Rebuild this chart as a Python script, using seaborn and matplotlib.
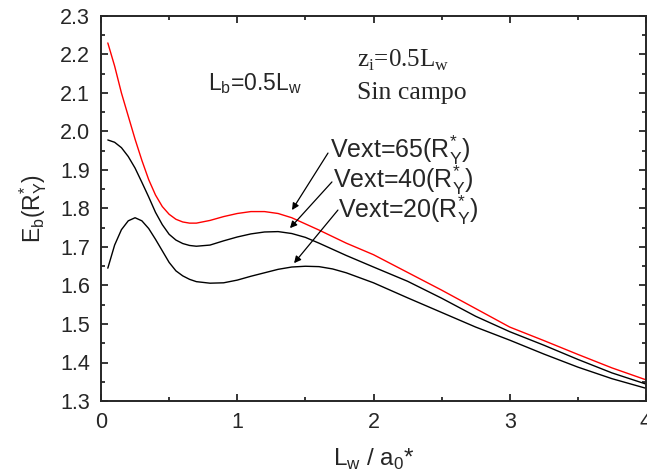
import matplotlib
matplotlib.use('Agg')
import matplotlib.pyplot as plt
from matplotlib.ticker import MultipleLocator
import seaborn as sns
import pandas as pd

# curve data (Lw/a0*, Eb in Ry*)
lw_vals = [0.05, 0.10, 0.15, 0.20, 0.25, 0.30, 0.35, 0.40, 0.45, 0.50,
           0.55, 0.60, 0.65, 0.70, 0.80, 0.90, 1.00, 1.10, 1.20, 1.30,
           1.40, 1.50, 1.60, 1.70, 1.80, 2.00, 2.25, 2.50, 2.75, 3.00,
           3.25, 3.50, 3.75, 4.00]
eb_vext65 = [2.230, 2.170, 2.100, 2.040, 1.980, 1.925, 1.875, 1.835, 1.805, 1.785,
             1.772, 1.765, 1.762, 1.762, 1.769, 1.779, 1.787, 1.792, 1.792, 1.787,
             1.776, 1.760, 1.744, 1.727, 1.710, 1.680, 1.634, 1.588, 1.540, 1.492,
             1.457, 1.421, 1.386, 1.355]
eb_vext40 = [1.978, 1.972, 1.958, 1.935, 1.905, 1.868, 1.830, 1.790, 1.758, 1.733,
             1.718, 1.709, 1.704, 1.702, 1.705, 1.716, 1.726, 1.734, 1.739, 1.740,
             1.735, 1.725, 1.710, 1.694, 1.678, 1.648, 1.611, 1.567, 1.520, 1.480,
             1.445, 1.408, 1.373, 1.344]
eb_vext20 = [1.645, 1.705, 1.745, 1.768, 1.776, 1.768, 1.748, 1.720, 1.690, 1.660,
             1.638, 1.625, 1.616, 1.610, 1.606, 1.607, 1.614, 1.624, 1.633, 1.642,
             1.648, 1.650, 1.649, 1.643, 1.633, 1.607, 1.568, 1.530, 1.492, 1.458,
             1.422, 1.388, 1.358, 1.333]

df = pd.DataFrame({'Lw': lw_vals, 'v65': eb_vext65, 'v40': eb_vext40, 'v20': eb_vext20})

sns.set_style('ticks')
plt.rcParams['font.family'] = ['Liberation Sans', 'DejaVu Sans']
plt.rcParams['mathtext.fontset'] = 'custom'
plt.rcParams['mathtext.rm'] = 'Liberation Sans'

fig = plt.figure(figsize=(6.47, 4.74), dpi=100)
ax = fig.add_axes([101/647, 1 - 401/474, 545/647, 385/474])

sns.lineplot(data=df, x='Lw', y='v65', color='#ff0000', lw=1.0, ax=ax)
sns.lineplot(data=df, x='Lw', y='v40', color='black', lw=1.0, ax=ax)
sns.lineplot(data=df, x='Lw', y='v20', color='black', lw=1.0, ax=ax)

ax.set_xlim(0, 4)
ax.set_ylim(1.3, 2.3)
ax.xaxis.set_major_locator(MultipleLocator(1))
ax.xaxis.set_minor_locator(MultipleLocator(0.5))
ax.yaxis.set_major_locator(MultipleLocator(0.1))
ax.yaxis.set_minor_locator(MultipleLocator(0.05))
ax.tick_params(which='both', direction='in', top=True, right=True, width=1.3, labelsize=15.5, pad=8)
ax.tick_params(which='major', length=5)
ax.tick_params(which='minor', length=3)
for s in ax.spines.values():
    s.set_linewidth(1.4)

ax.set_xlabel(r'L$_\mathregular{w}$ / a$_\mathregular{0}$*', fontsize=17.5, labelpad=10)
ax.set_ylabel(r'E$_\mathregular{b}$(R$_\mathregular{Y}^\mathregular{*}$)', fontsize=16.5, labelpad=8)

# annotations
ax.text(0.785, 2.108, r'L$_\mathregular{b}$=0.5L$_\mathregular{w}$', fontsize=16.5)
ax.text(1.879, 2.168, r'z$_\mathregular{i}$=0.5L$_\mathregular{w}$', fontsize=18,
        family='Liberation Serif')
ax.text(1.879, 2.084, 'Sin campo', fontsize=18.5, family='Liberation Serif')

labels = [r'Vext=65(R$_\mathregular{Y}^\mathregular{*}$)',
          r'Vext=40(R$_\mathregular{Y}^\mathregular{*}$)',
          r'Vext=20(R$_\mathregular{Y}^\mathregular{*}$)']
text_pos = [(1.681, 1.931), (1.703, 1.853), (1.739, 1.775)]
tails = [(1.666, 1.944), (1.695, 1.869), (1.739, 1.796)]
heads = [(1.402, 1.796), (1.387, 1.749), (1.417, 1.658)]
for lab, tp, tl, hd in zip(labels, text_pos, tails, heads):
    ax.text(tp[0], tp[1], lab, fontsize=18)
    ax.annotate('', xy=hd, xytext=tl,
                arrowprops=dict(arrowstyle='-|>', color='black', lw=0.9,
                                mutation_scale=10, shrinkA=0, shrinkB=0))

fig.savefig('out.png', dpi=100)
